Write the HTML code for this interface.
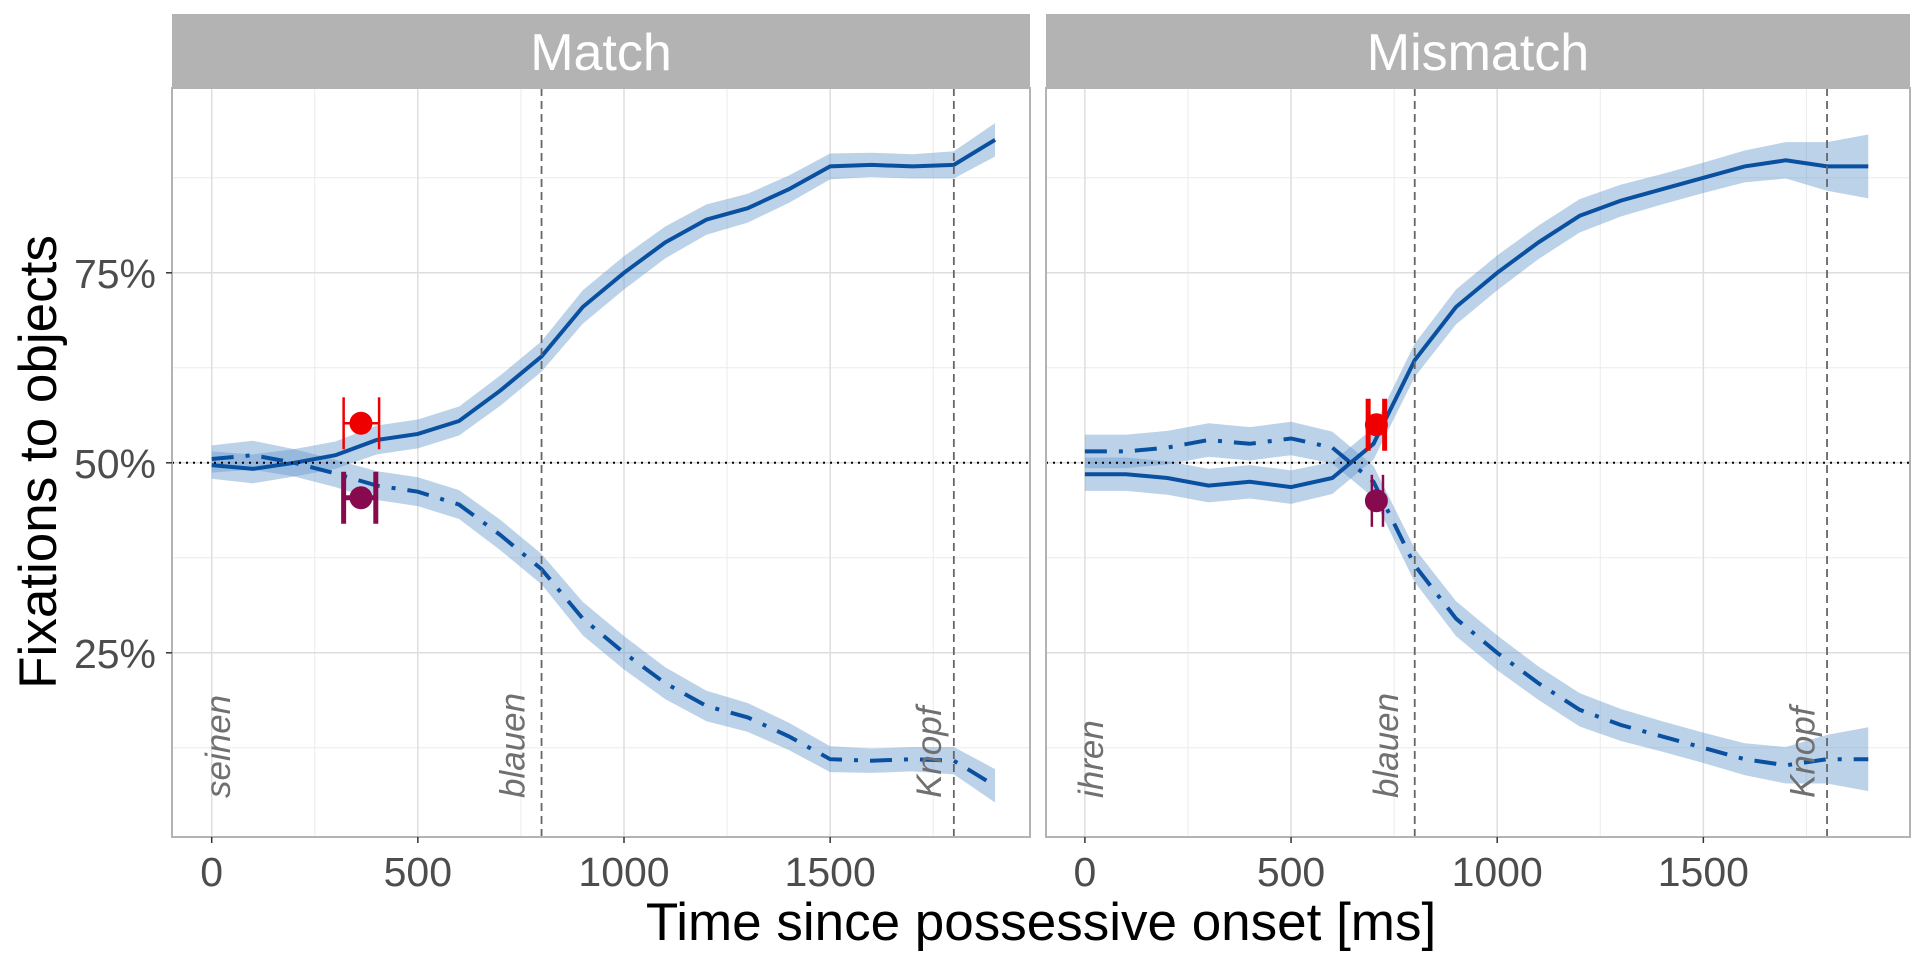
<!DOCTYPE html>
<html><head><meta charset="utf-8"><style>
body{margin:0;background:#fff;}
svg{display:block;font-family:"Liberation Sans",sans-serif;}
</style></head><body>
<svg id="chart" width="1920" height="960"></svg>
<script>
const times=[0,100,200,300,400,500,600,700,800,900,1000,1100,1200,1300,1400,1500,1600,1700,1800,1900];
const matchTarget=[49.7,49.2,50,51,53,53.8,55.5,59.5,64,70.5,75,79,82,83.5,86,89,89.2,89,89.2,92.5];
const matchCompet=[50.5,51,50,48.6,47,46.2,44.5,40.5,36,29.5,25,21,18,16.5,14,11,10.8,11,10.8,7.5];
const misTarget=[48.5,48.5,48,47,47.5,46.8,48,52.5,63.5,70.5,75,79,82.5,84.5,86,87.5,89,89.8,89,89];
const misCompet=[51.5,51.5,52,53,52.5,53.2,52,47.5,36.5,29.5,25,21,17.5,15.5,14,12.5,11,10.2,11,11];
const matchSE=[1.8,1.9,1.8,1.8,1.9,1.9,1.9,2,2,2.2,2.2,2.1,2,1.9,1.8,1.7,1.6,1.6,1.8,2.2];
const misSE=[2.2,2.2,2.2,2.2,2.2,2.2,2.1,2.1,2.2,2.3,2.3,2.2,2.2,2.1,2,2,2.1,2.4,3.2,4.2];
const panelNames=["Match","Mismatch"];
const wordLabels=[["seinen","blauen","Knopf"],["ihren","blauen","Knopf"]];
const wordTimes=[[15,730,1740],[15,730,1740]];
const vlines=[800,1800];
const xTicks=[0,500,1000,1500];
const yTicks=[25,50,75];
const yMinor=[12.5,37.5,62.5,87.5];
const pointX=[[362,362],[707,707]];
const pointY=[[55.2,45.4],[55,45]];
const pointLo=[[320,320],[687,696]];
const pointHi=[[406,398],[727,723]];

const NS="http://www.w3.org/2000/svg";
const svg=document.getElementById('chart');
function el(tag,attrs,parent){const e=document.createElementNS(NS,tag);for(const k in attrs)e.setAttribute(k,attrs[k]);(parent||svg).appendChild(e);return e;}
const panels=[{x0:172,x1:1030,zero:211.7},{x0:1046,x1:1910,zero:1084.9}];
const pxPerMs=0.4123, plotTop=88, plotBottom=837;
function yS(v){return 462.8-(v-50)*7.6;}

panels.forEach((p,i)=>{
  const xS=t=>p.zero+t*pxPerMs;
  const g=el('g',{});
  
  
  yMinor.forEach(v=>{const l=el('line',{x1:p.x0,x2:p.x1,y1:yS(v),y2:yS(v),stroke:'#ebebeb','stroke-width':1},g);});
  [250,750,1250,1750].forEach(t=>{const l=el('line',{x1:xS(t),x2:xS(t),y1:plotTop,y2:plotBottom,stroke:'#ebebeb','stroke-width':1},g);});
  yTicks.forEach(v=>{const l=el('line',{x1:p.x0,x2:p.x1,y1:yS(v),y2:yS(v),stroke:'#dedede','stroke-width':1.5},g);});
  xTicks.forEach(t=>{const l=el('line',{x1:xS(t),x2:xS(t),y1:plotTop,y2:plotBottom,stroke:'#dedede','stroke-width':1.5},g);});
  const s=el('rect',{x:p.x0,y:14,width:p.x1-p.x0,height:74,fill:'#b3b3b3'},g);
  
  
  const st=el('text',{x:(p.x0+p.x1)/2,y:70,'text-anchor':'middle','font-size':52,fill:'#fff'},g);st.textContent=panelNames[i];
  
  
  const tgt=i?misTarget:matchTarget, cmp=i?misCompet:matchCompet, se=i?misSE:matchSE;
  [tgt,cmp].forEach((arr,k)=>{
    let d='M'+times.map((t,j)=>xS(t)+','+yS(arr[j]+se[j])).join('L')+'L'+times.slice().reverse().map((t,jj)=>{const j=times.length-1-jj;return xS(t)+','+yS(arr[j]-se[j]);}).join('L')+'Z';
    const r=el('path',{d:d,fill:'#6a9bcf','fill-opacity':0.45},g);
    
    
  });
  [tgt,cmp].forEach((arr,k)=>{
    const ln=el('polyline',{points:times.map((t,j)=>xS(t)+','+yS(arr[j])).join(' '),fill:'none',stroke:'#0a50a0','stroke-width':4,'stroke-dasharray':k?'22,12,4,12':'none'},g);
    
    
  });
  const h=el('line',{x1:p.x0,x2:p.x1,y1:yS(50),y2:yS(50),stroke:'#000','stroke-width':2,'stroke-dasharray':'2,5'},g);
  
  
  vlines.forEach(t=>{const v=el('line',{x1:xS(t),x2:xS(t),y1:plotTop,y2:plotBottom,stroke:'#666','stroke-width':1.8,'stroke-dasharray':'8,5'},g);});
  wordLabels[i].forEach((w,k)=>{
    const tx=el('text',{transform:'translate('+(xS(wordTimes[i][k])+12)+',798) rotate(-90)','font-size':35,'font-style':'italic',fill:'#707070'},g);
    tx.textContent=w;
    
    
  });
  const cols=['#ee0000','#880a4e'], widths=i?[5,2.5]:[2.5,5];
  [0,1].forEach(k=>{
    const y=yS(pointY[i][k]);
    const a=xS(pointLo[i][k]), b=xS(pointHi[i][k]);
    const eb=el('g',{},g);
    
    
    el('line',{x1:a,x2:b,y1:y,y2:y,stroke:cols[k],'stroke-width':widths[k]},eb);
    el('line',{x1:a,x2:a,y1:y-26,y2:y+26,stroke:cols[k],'stroke-width':widths[k]},eb);
    el('line',{x1:b,x2:b,y1:y-26,y2:y+26,stroke:cols[k],'stroke-width':widths[k]},eb);
    el('circle',{cx:xS(pointX[i][k]),cy:y,r:11.5,fill:cols[k]},eb);
  });
  const b=el('rect',{x:p.x0,y:plotTop,width:p.x1-p.x0,height:plotBottom-plotTop,fill:'none',stroke:'#b3b3b3','stroke-width':2},g);
  
  
  xTicks.forEach(t=>{
    el('line',{x1:xS(t),x2:xS(t),y1:plotBottom,y2:plotBottom+6,stroke:'#333','stroke-width':1.5},g);
    const tl=el('text',{x:xS(t),y:886,'text-anchor':'middle','font-size':41,fill:'#4d4d4d'},g);
    tl.textContent=t;
    
    
  });
  if(i==0){
    yTicks.forEach(v=>{
      el('line',{x1:p.x0-6,x2:p.x0,y1:yS(v),y2:yS(v),stroke:'#333','stroke-width':1.5},g);
      const tl=el('text',{x:156,y:yS(v)+15,'text-anchor':'end','font-size':41,fill:'#4d4d4d'},g);
      tl.textContent=v+'%';
      
      
    });
  }
});
const xt=el('text',{x:1041,y:940,'text-anchor':'middle','font-size':53,fill:'#000'});
xt.textContent='Time since possessive onset [ms]';


const yt=el('text',{transform:'translate(56,462) rotate(-90)','text-anchor':'middle','font-size':53,fill:'#000'});
yt.textContent='Fixations to objects';


</script>
</body></html>
